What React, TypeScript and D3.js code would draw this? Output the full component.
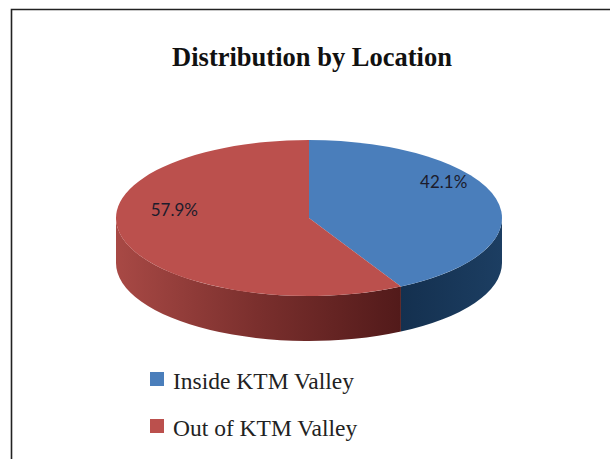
import React from 'react';
import * as d3 from 'd3';

// data
const categories = ['Inside KTM Valley', 'Out of KTM Valley'];
const shares = [42.1, 57.9];
const topColors = ['#4a7ebb', '#bb504d'];

const W = 610;
const H = 459;

export default function App() {
  const cx = 309;
  const cy = 218;
  const rx = 193;
  const ry = 78;
  const depth = 45;

  const pie = d3.pie<number>().sort(null).value((d) => d);
  const slices = pie(shares);

  // angle measured clockwise from 12 o'clock, projected on the ellipse
  const pt = (a: number, dy = 0): [number, number] => [cx + rx * Math.sin(a), cy - ry * Math.cos(a) + dy];

  const topPath = (a0: number, a1: number) => {
    const p0 = pt(a0);
    const p1 = pt(a1);
    const large = a1 - a0 > Math.PI ? 1 : 0;
    return `M${cx},${cy}L${p0[0]},${p0[1]}A${rx},${ry} 0 ${large} 1 ${p1[0]},${p1[1]}Z`;
  };

  const sidePath = (a0: number, a1: number) => {
    const s = Math.max(a0, Math.PI / 2);
    const e = Math.min(a1, (3 * Math.PI) / 2);
    if (e <= s) return null;
    const p0 = pt(s);
    const p1 = pt(e);
    const q1 = pt(e, depth);
    const q0 = pt(s, depth);
    return `M${p0[0]},${p0[1]}A${rx},${ry} 0 0 1 ${p1[0]},${p1[1]}L${q1[0]},${q1[1]}A${rx},${ry} 0 0 0 ${q0[0]},${q0[1]}Z`;
  };

  const fmt = d3.format('.1f');

  return (
    <svg width={W} height={H} style={{ position: 'absolute', left: 0, top: 0, background: '#fff' }}>
      <defs>
        <linearGradient id="sideRed" gradientUnits="userSpaceOnUse" x1={cx - rx} x2={pt(slices[1].startAngle)[0]} y1={0} y2={0}>
          <stop offset="0" stopColor="#a84945" />
          <stop offset="0.5" stopColor="#7a2f2d" />
          <stop offset="1" stopColor="#521a1a" />
        </linearGradient>
        <linearGradient id="sideBlue" gradientUnits="userSpaceOnUse" x1={pt(slices[0].endAngle)[0]} x2={cx + rx} y1={0} y2={0}>
          <stop offset="0" stopColor="#14304f" />
          <stop offset="1" stopColor="#1c3e62" />
        </linearGradient>
      </defs>

      {/* frame */}
      <path d={`M11.5,${H}V9.5H${W}`} fill="none" stroke="#222" strokeWidth={1.6} />

      <text x={312} y={66} textAnchor="middle" fontFamily="Liberation Serif, Times New Roman, serif" fontWeight="bold" fontSize={26.5} fill="#111">
        Distribution by Location
      </text>

      {/* side walls */}
      {slices.map((s, i) => {
        const d = sidePath(s.startAngle, s.endAngle);
        return d ? <path key={'s' + i} d={d} fill={i === 0 ? 'url(#sideBlue)' : 'url(#sideRed)'} /> : null;
      })}

      {/* top faces */}
      {slices.map((s, i) => (
        <path key={'t' + i} d={topPath(s.startAngle, s.endAngle)} fill={topColors[i]} />
      ))}

      {/* labels */}
      {slices.map((s, i) => {
        const m = (s.startAngle + s.endAngle) / 2;
        const [lx, ly] = pt(m);
        const x = cx + (lx - cx) * 0.72;
        const y = cy + (ly - cy) * 0.72 - 22;
        return (
          <text key={'l' + i} x={x} y={y} dy="0.35em" textAnchor="middle" fontFamily="Lato, Noto Sans, sans-serif" fontSize={17} fill="#1c1c2c">
            {fmt(s.data)}%
          </text>
        );
      })}

      {/* legend */}
      {categories.map((c, i) => (
        <g key={c} transform={`translate(150,${372 + i * 47})`}>
          <rect width={14} height={14} fill={topColors[i]} />
          <text x={23} y={17} fontFamily="Liberation Serif, Times New Roman, serif" fontSize={23.5} fill="#222">
            {c}
          </text>
        </g>
      ))}
    </svg>
  );
}
